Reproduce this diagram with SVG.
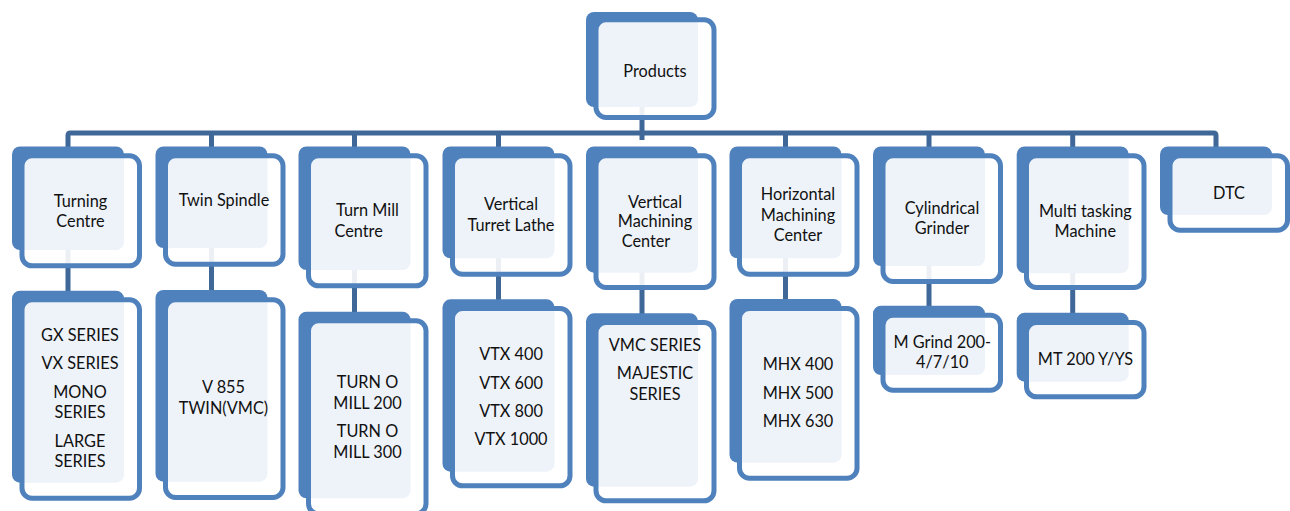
<svg xmlns="http://www.w3.org/2000/svg" width="1290" height="511" viewBox="0 0 1290 511">
<style>
.bk{fill:#4f81bd}
.fr{fill:#ffffff;fill-opacity:0.9;stroke:#4f81bd;stroke-width:5}
.cn{fill:none;stroke:#3f6898;stroke-width:5}
text{font-family:Lato,"Liberation Sans",sans-serif;font-size:16.3px;fill:#111;text-anchor:middle}
.l{text-anchor:start}
</style>
<rect width="1290" height="511" fill="#fff"/>
<g id="connectors">
<path class="cn" d="M642 100 V140"/>
<path class="cn" d="M68 150 V135.5 Q68 133 70.5 133 H1213.5 Q1216 133 1216 135.5 V150"/>
<path class="cn" d="M211.5 133 V150 M354.5 133 V150 M498.5 133 V150 M785.5 133 V150 M929 133 V150 M1072.7 133 V150"/>
<path class="cn" d="M68 245 V295 M211.5 245 V295 M354.5 265 V315 M498.5 255 V303 M642 268 V317 M785.5 255 V303 M929 262 V309 M1072.7 268 V316"/>
</g>
<g id="products">
<rect class="bk" x="586" y="12" width="112" height="95" rx="8"/>
<rect class="fr" x="596" y="19.8" width="118" height="97.7" rx="10"/>
<text x="655" y="76.7">Products</text>
</g>
<g id="turning-centre">
<rect class="bk" x="12" y="146.5" width="112" height="103.5" rx="8"/>
<rect class="fr" x="22" y="155.8" width="117.5" height="110" rx="10"/>
<text x="80.5" y="207.3">Turning</text>
<text x="80.5" y="227">Centre</text>
</g>
<g id="twin-spindle">
<rect class="bk" x="155.5" y="146.5" width="112" height="101.5" rx="8"/>
<rect class="fr" x="165.5" y="155.8" width="117.5" height="108.4" rx="10"/>
<text x="224" y="206">Twin Spindle</text>
</g>
<g id="turn-mill-centre">
<rect class="bk" x="298.5" y="146.5" width="112" height="123.5" rx="8"/>
<rect class="fr" x="308.5" y="155.8" width="117.5" height="130" rx="10"/>
<text x="367.5" y="216">Turn Mill</text>
<text class="l" x="334.5" y="236.7">Centre</text>
</g>
<g id="vertical-turret-lathe">
<rect class="bk" x="442.5" y="146.5" width="112" height="111.8" rx="8"/>
<rect class="fr" x="452.5" y="155.8" width="117.5" height="118.4" rx="10"/>
<text x="511" y="210">Vertical</text>
<text x="511" y="230.7">Turret Lathe</text>
</g>
<g id="vertical-machining-center">
<rect class="bk" x="586" y="146.5" width="112" height="126.2" rx="8"/>
<rect class="fr" x="596" y="155.8" width="118" height="131.7" rx="10"/>
<text x="655" y="207.7">Vertical</text>
<text x="655" y="227.3">Machining</text>
<text class="l" x="621.7" y="247.3">Center</text>
</g>
<g id="horizontal-machining-center">
<rect class="bk" x="729.5" y="146.5" width="112" height="111.8" rx="8"/>
<rect class="fr" x="739.5" y="155.8" width="117.5" height="118.4" rx="10"/>
<text x="798" y="200">Horizontal</text>
<text x="798" y="221">Machining</text>
<text x="798" y="240.7">Center</text>
</g>
<g id="cylindrical-grinder">
<rect class="bk" x="873" y="146.5" width="112" height="119.5" rx="8"/>
<rect class="fr" x="883" y="155.8" width="117.5" height="125.7" rx="10"/>
<text x="942" y="214">Cylindrical</text>
<text x="942" y="234">Grinder</text>
</g>
<g id="multi-tasking-machine">
<rect class="bk" x="1016.7" y="146.5" width="112" height="126.8" rx="8"/>
<rect class="fr" x="1026.5" y="155.8" width="117.5" height="131.7" rx="10"/>
<text x="1085.3" y="217.3">Multi tasking</text>
<text x="1085.3" y="237.3">Machine</text>
</g>
<g id="dtc">
<rect class="bk" x="1160" y="146.5" width="112" height="68.5" rx="8"/>
<rect class="fr" x="1170" y="155.8" width="117.5" height="74.4" rx="10"/>
<text x="1229" y="199.3">DTC</text>
</g>
<g id="turning-centre-models">
<rect class="bk" x="12" y="290.7" width="112" height="192" rx="8"/>
<rect class="fr" x="22" y="299.8" width="117.5" height="198.4" rx="10"/>
<text x="80" y="341">GX SERIES</text>
<text x="80" y="369">VX SERIES</text>
<text x="80" y="398.3">MONO</text>
<text x="80" y="418.3">SERIES</text>
<text x="80" y="447.3">LARGE</text>
<text x="80" y="467.3">SERIES</text>
</g>
<g id="twin-spindle-models">
<rect class="bk" x="155.5" y="290" width="112" height="191.7" rx="8"/>
<rect class="fr" x="165.5" y="299.8" width="117.5" height="197.7" rx="10"/>
<text x="223.5" y="393.3">V 855</text>
<text x="223.5" y="414.3">TWIN(VMC)</text>
</g>
<g id="turn-mill-models">
<rect class="bk" x="298.5" y="311.7" width="112" height="186.6" rx="8"/>
<rect class="fr" x="308.5" y="320.8" width="117.5" height="193" rx="10"/>
<text x="367.5" y="388.3">TURN O</text>
<text x="367.5" y="409.3">MILL 200</text>
<text x="367.5" y="437.3">TURN O</text>
<text x="367.5" y="458.3">MILL 300</text>
</g>
<g id="vtl-models">
<rect class="bk" x="442.5" y="299.3" width="112" height="172.4" rx="8"/>
<rect class="fr" x="452.5" y="308.5" width="117.5" height="177.3" rx="10"/>
<text x="511" y="360">VTX 400</text>
<text x="511" y="389">VTX 600</text>
<text x="511" y="417.3">VTX 800</text>
<text x="511" y="445">VTX 1000</text>
</g>
<g id="vmc-models">
<rect class="bk" x="586" y="313.3" width="112" height="173.4" rx="8"/>
<rect class="fr" x="596" y="322.5" width="118" height="178.3" rx="10"/>
<text x="655" y="350.7">VMC SERIES</text>
<text x="655" y="379.3">MAJESTIC</text>
<text x="655" y="400">SERIES</text>
</g>
<g id="hmc-models">
<rect class="bk" x="729.5" y="299" width="112" height="163.7" rx="8"/>
<rect class="fr" x="739.5" y="308.5" width="117.5" height="169.7" rx="10"/>
<text x="798" y="370">MHX 400</text>
<text x="798" y="399">MHX 500</text>
<text x="798" y="426.7">MHX 630</text>
</g>
<g id="grinder-models">
<rect class="bk" x="873" y="305.7" width="112" height="69.3" rx="8"/>
<rect class="fr" x="883" y="315.2" width="117.5" height="75" rx="10"/>
<text x="942.3" y="347.7">M Grind 200-</text>
<text x="942.3" y="368.3">4/7/10</text>
</g>
<g id="multitasking-models">
<rect class="bk" x="1016.7" y="312.7" width="112" height="69" rx="8"/>
<rect class="fr" x="1026.5" y="322.5" width="117.5" height="74.3" rx="10"/>
<text x="1085.5" y="365">MT 200 Y/YS</text>
</g>
</svg>
